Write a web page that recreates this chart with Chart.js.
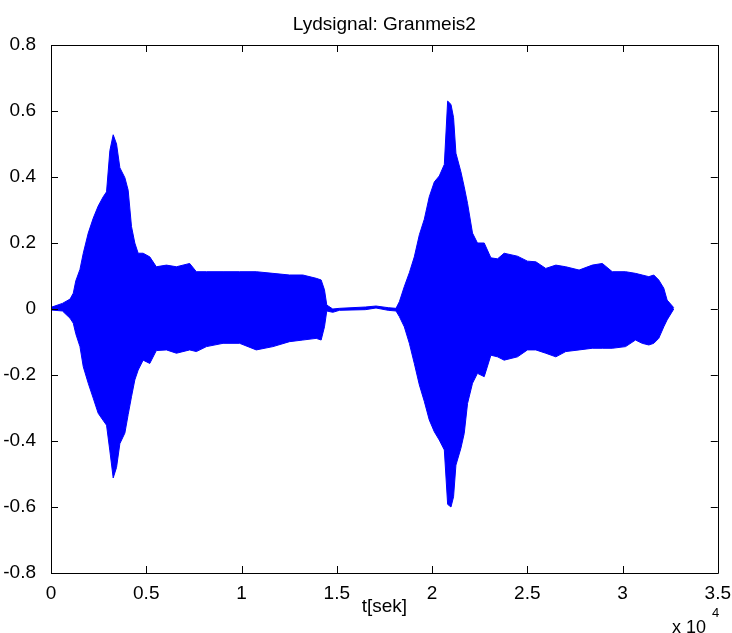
<!DOCTYPE html>
<html lang="no">
<head>
    <meta charset="UTF-8" />
    <title>Lydsignal: Granmeis2</title>
    <script src="https://cdn.jsdelivr.net/npm/chart.js"></script>
    <style>
        html, body { margin: 0; padding: 0; background: #fff; }
        #wrap { width: 732px; height: 633px; }
    </style>
</head>
<body>
    <div id="wrap"><canvas id="signalChart" width="732" height="633"></canvas></div>

    <script>
        // sample index of each envelope reading
        const samples = [
            0, 600, 1000, 1170, 1300, 1520, 1694, 1955, 2215, 2477, 2740, 2915, 3090, 3265, 3440,
            3615, 3877, 4050, 4225, 4400, 4575, 4835, 5185, 5530, 6060, 6585, 7280, 7630, 8160,
            9030, 9900, 10775, 11650, 12520, 13220, 13920, 14180, 14355, 14475, 14790, 15140,
            15800, 16500, 17060, 17700, 18110, 18285, 18545, 18810, 19070, 19335, 19595, 19855,
            20120, 20380, 20645, 20820, 20995, 21130, 21255, 21515, 21690, 21865, 22125, 22385,
            22740, 23090, 23440, 23785, 24485, 25010, 25450, 25970, 26500, 27020, 27720, 28410,
            28940, 29460, 30160, 30680, 31030, 31380, 31640, 31900, 32165, 32340, 32690
        ];
        // positive peaks of the signal
        const upper = [
            0.005, 0.017, 0.03, 0.048, 0.085, 0.12, 0.169, 0.23, 0.275, 0.312, 0.34, 0.355, 0.48, 0.528, 0.5,
            0.428, 0.398, 0.36, 0.25, 0.2, 0.169, 0.169, 0.158, 0.128, 0.133, 0.128, 0.138, 0.113, 0.113,
            0.113, 0.113, 0.113, 0.108, 0.103, 0.103, 0.093, 0.088, 0.058, 0.012, 0.0, 0.002,
            0.004, 0.006, 0.009, 0.004, 0.002, 0.022, 0.068, 0.11, 0.158, 0.225, 0.272, 0.34,
            0.385, 0.403, 0.438, 0.63, 0.62, 0.58, 0.472, 0.416, 0.37, 0.32, 0.23, 0.2,
            0.2, 0.155, 0.152, 0.169, 0.16, 0.145, 0.143, 0.123, 0.133, 0.128, 0.118, 0.133,
            0.138, 0.113, 0.113, 0.108, 0.103, 0.098, 0.103, 0.088, 0.063, 0.027, 0.004
        ];
        // negative peaks of the signal
        const lower = [
            -0.003, -0.006, -0.028, -0.043, -0.075, -0.114, -0.175, -0.225, -0.27, -0.316, -0.338, -0.352, -0.43, -0.512, -0.48,
            -0.408, -0.376, -0.32, -0.266, -0.215, -0.185, -0.155, -0.165, -0.126, -0.124, -0.134, -0.124, -0.129, -0.114,
            -0.104, -0.104, -0.124, -0.114, -0.099, -0.094, -0.089, -0.094, -0.054, -0.006, -0.01, -0.004,
            -0.003, -0.002, 0.003, -0.004, -0.006, -0.023, -0.054, -0.104, -0.165, -0.23, -0.28, -0.336,
            -0.372, -0.397, -0.427, -0.592, -0.60, -0.569, -0.473, -0.422, -0.377, -0.286, -0.225, -0.195,
            -0.205, -0.14, -0.145, -0.155, -0.145, -0.124, -0.124, -0.134, -0.145, -0.129, -0.124, -0.119,
            -0.119, -0.119, -0.114, -0.094, -0.104, -0.109, -0.104, -0.089, -0.054, -0.033, 0.0
        ];

        const xTicks = [0, 5000, 10000, 15000, 20000, 25000, 30000, 35000];
        const yTicks = [-0.8, -0.6, -0.4, -0.2, 0, 0.2, 0.4, 0.6, 0.8];

        const FONT = "'Liberation Sans', Arial, Helvetica, sans-serif";
        const BLUE = '#0000ff';

        const upperPts = samples.map((s, i) => ({ x: s, y: upper[i] }));
        const lowerPts = samples.map((s, i) => ({ x: s, y: lower[i] }));

        // frame, inward ticks, title and axis texts in matlab style
        const axesDecor = {
            id: 'axesDecor',
            afterDraw(chart) {
                const { ctx, chartArea: a, scales } = chart;
                const tl = 7;
                ctx.save();
                ctx.strokeStyle = '#000';
                ctx.lineWidth = 1;
                ctx.beginPath();
                ctx.rect(Math.round(a.left) + 0.5, Math.round(a.top) + 0.5,
                    Math.round(a.right - a.left), Math.round(a.bottom - a.top));
                xTicks.forEach(v => {
                    const px = Math.round(scales.x.getPixelForValue(v)) + 0.5;
                    ctx.moveTo(px, a.bottom); ctx.lineTo(px, a.bottom - tl);
                    ctx.moveTo(px, a.top); ctx.lineTo(px, a.top + tl);
                });
                yTicks.forEach(v => {
                    const py = Math.round(scales.y.getPixelForValue(v)) + 0.5;
                    ctx.moveTo(a.left, py); ctx.lineTo(a.left + tl, py);
                    ctx.moveTo(a.right, py); ctx.lineTo(a.right - tl, py);
                });
                ctx.stroke();

                ctx.fillStyle = '#000';
                ctx.textAlign = 'center';
                ctx.textBaseline = 'middle';
                ctx.font = '19px ' + FONT;
                ctx.fillText('Lydsignal: Granmeis2', (a.left + a.right) / 2, 25);
                ctx.fillText('t[sek]', (a.left + a.right) / 2, 607);

                // axis multiplier
                ctx.textAlign = 'left';
                ctx.textBaseline = 'alphabetic';
                ctx.font = '18px ' + FONT;
                ctx.fillText('x 10', 672, 633);
                ctx.font = '13px ' + FONT;
                ctx.fillText('4', 712, 617);
                ctx.restore();
            }
        };

        new Chart(document.getElementById('signalChart'), {
            type: 'line',
            data: {
                datasets: [
                    {
                        data: upperPts,
                        borderColor: BLUE,
                        backgroundColor: BLUE,
                        borderWidth: 1,
                        pointRadius: 0,
                        tension: 0,
                        fill: '+1'
                    },
                    {
                        data: lowerPts,
                        borderColor: BLUE,
                        borderWidth: 1,
                        pointRadius: 0,
                        tension: 0,
                        fill: false
                    }
                ]
            },
            options: {
                responsive: false,
                animation: false,
                layout: { padding: { left: 0, right: 13, top: 45, bottom: 0 } },
                plugins: {
                    legend: { display: false },
                    tooltip: { enabled: false }
                },
                scales: {
                    x: {
                        type: 'linear',
                        min: 0,
                        max: 35000,
                        afterBuildTicks: s => { s.ticks = xTicks.map(v => ({ value: v })); },
                        afterFit: s => { s.height = 60; },
                        grid: { display: false },
                        border: { display: false },
                        ticks: {
                            padding: 1,
                            maxRotation: 0,
                            color: '#000',
                            font: { family: FONT, size: 19 },
                            callback: v => String(v / 10000)
                        }
                    },
                    y: {
                        min: -0.8,
                        max: 0.8,
                        afterBuildTicks: s => { s.ticks = yTicks.map(v => ({ value: v })); },
                        afterFit: s => { s.width = 51; },
                        grid: { display: false },
                        border: { display: false },
                        ticks: {
                            padding: 7,
                            color: '#000',
                            font: { family: FONT, size: 19 },
                            callback: v => String(Math.round(v * 10) / 10)
                        }
                    }
                }
            },
            plugins: [axesDecor]
        });
    </script>
</body>
</html>
